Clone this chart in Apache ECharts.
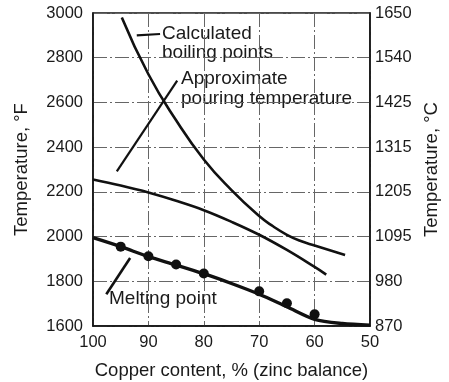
<!DOCTYPE html>
<html>
<head>
<meta charset="utf-8">
<script src="https://cdn.jsdelivr.net/npm/echarts@6/dist/echarts.min.js"></script>
<style>
  html, body { margin: 0; padding: 0; background: #fff; }
  #chart { width: 449px; height: 382px; }
</style>
</head>
<body>
<div id="chart"></div>
<script>
// Copper content (%) vs temperature (°F) for copper-zinc alloys
const boilingCu = [94.8, 90, 85, 80, 75, 70, 67.5, 65, 62.5, 60, 54.5];
const boilingF  = [2980, 2726, 2520, 2345, 2208, 2092, 2046, 2008, 1980, 1960, 1918];

const pouringCu = [100, 95, 90, 85, 80, 75, 70, 65, 60, 57.9];
const pouringF  = [2255, 2228, 2197, 2160, 2118, 2066, 2008, 1940, 1864, 1830];

const meltCurveCu = [100, 95, 90, 85, 80, 75, 70, 65, 60, 55, 50];
const meltCurveF  = [1995, 1955, 1910, 1873, 1834, 1790, 1742, 1686, 1630, 1611, 1604];

const meltPointCu = [95, 90, 85, 80, 70, 65, 60];
const meltPointF  = [1955, 1912, 1875, 1835, 1755, 1702, 1652];

// Leader lines from the annotations to their curves
const boilingLeaderCu = [92.1, 87.9];
const boilingLeaderF  = [2900, 2906];
const pouringLeaderCu = [95.7, 84.8];
const pouringLeaderF  = [2292, 2698];
const meltLeaderCu    = [97.6, 93.3];
const meltLeaderF     = [1742, 1904];

// Tick labels
const fahrenheitTicks = ['1600', '1800', '2000', '2200', '2400', '2600', '2800', '3000'];
const celsiusTicks    = ['870', '980', '1095', '1205', '1315', '1425', '1540', '1650'];
const copperTicks     = ['50', '60', '70', '80', '90', '100'];

const zip = (xs, ys) => xs.map((x, i) => [x, ys[i]]);

const FONT = '"Liberation Sans", Arial, Helvetica, sans-serif';
const INK = '#111';
const TEXT = '#1a1a1a';

const gridLine = {
  show: true,
  lineStyle: { color: '#666', width: 1, type: [14, 3, 2, 3] }
};

const tickIndex = (v, base, step) => Math.round((v - base) / step);

const curve = (name, xs, ys, width, smooth) => ({
  name, type: 'line', data: zip(xs, ys),
  smooth, showSymbol: false, symbol: 'none',
  lineStyle: { color: INK, width }
});

const leader = (name, xs, ys, width) => ({
  name, type: 'line', data: zip(xs, ys),
  symbol: 'none', lineStyle: { color: INK, width }
});

const chart = echarts.init(document.getElementById('chart'), null, { renderer: 'canvas' });

chart.setOption({
  backgroundColor: '#fff',
  animation: false,
  grid: {
    left: 93, right: 79, top: 13, bottom: 56,
    containLabel: false, outerBoundsMode: 'none',
    show: true, borderColor: INK, borderWidth: 1.5, backgroundColor: 'transparent'
  },
  xAxis: {
    type: 'value', min: 50, max: 100, interval: 10, inverse: true,
    name: 'Copper content, % (zinc balance)',
    nameLocation: 'middle', nameGap: 35,
    nameTextStyle: { fontFamily: FONT, fontSize: 18.5, color: TEXT },
    axisLine: { show: true, lineStyle: { color: INK, width: 1.5 } },
    axisTick: { show: false },
    axisLabel: {
      margin: 8, fontFamily: FONT, fontSize: 16.5, color: TEXT,
      formatter: v => copperTicks[tickIndex(v, 50, 10)]
    },
    splitLine: gridLine
  },
  yAxis: [
    {
      type: 'value', min: 1600, max: 3000, interval: 200, position: 'left',
      name: 'Temperature, °F',
      nameLocation: 'middle', nameGap: 62, nameRotate: 90,
      nameTextStyle: { fontFamily: FONT, fontSize: 18.5, color: TEXT },
      axisLine: { show: true, lineStyle: { color: INK, width: 1.5 } },
      axisTick: { show: false },
      axisLabel: {
        margin: 10, fontFamily: FONT, fontSize: 16.5, color: TEXT,
        formatter: v => fahrenheitTicks[tickIndex(v, 1600, 200)]
      },
      splitLine: gridLine
    },
    {
      type: 'value', min: 1600, max: 3000, interval: 200, position: 'right',
      name: 'Temperature, °C',
      nameLocation: 'middle', nameGap: 50, nameRotate: 90,
      nameTextStyle: { fontFamily: FONT, fontSize: 18.5, color: TEXT },
      axisLine: { show: true, lineStyle: { color: INK, width: 1.5 } },
      axisTick: { show: false },
      axisLabel: {
        margin: 5, fontFamily: FONT, fontSize: 16.5, color: TEXT,
        formatter: v => celsiusTicks[tickIndex(v, 1600, 200)]
      },
      splitLine: { show: false }
    }
  ],
  series: [
    curve('Calculated boiling points', boilingCu, boilingF, 2.6, 0.5),
    curve('Approximate pouring temperature', pouringCu, pouringF, 2.6, 0.4),
    curve('Melting point', meltCurveCu, meltCurveF, 3.4, 0.3),
    {
      name: 'Melting point data', type: 'scatter',
      data: zip(meltPointCu, meltPointF),
      symbol: 'circle', symbolSize: 10,
      itemStyle: { color: INK, opacity: 1 }
    },
    leader('boiling leader', boilingLeaderCu, boilingLeaderF, 2.2),
    leader('pouring leader', pouringLeaderCu, pouringLeaderF, 2.2),
    leader('melting leader', meltLeaderCu, meltLeaderF, 2.6)
  ],
  graphic: [
    {
      type: 'text', left: 162, top: 24,
      style: {
        text: 'Calculated\nboiling points', font: '19px ' + FONT,
        fill: TEXT, lineHeight: 19
      }
    },
    {
      type: 'text', left: 181, top: 69,
      style: {
        text: 'Approximate\npouring temperature', font: '19px ' + FONT,
        fill: TEXT, lineHeight: 20
      }
    },
    {
      type: 'text', left: 109, top: 289,
      style: { text: 'Melting point', font: '19px ' + FONT, fill: TEXT }
    }
  ]
});
</script>
</body>
</html>
